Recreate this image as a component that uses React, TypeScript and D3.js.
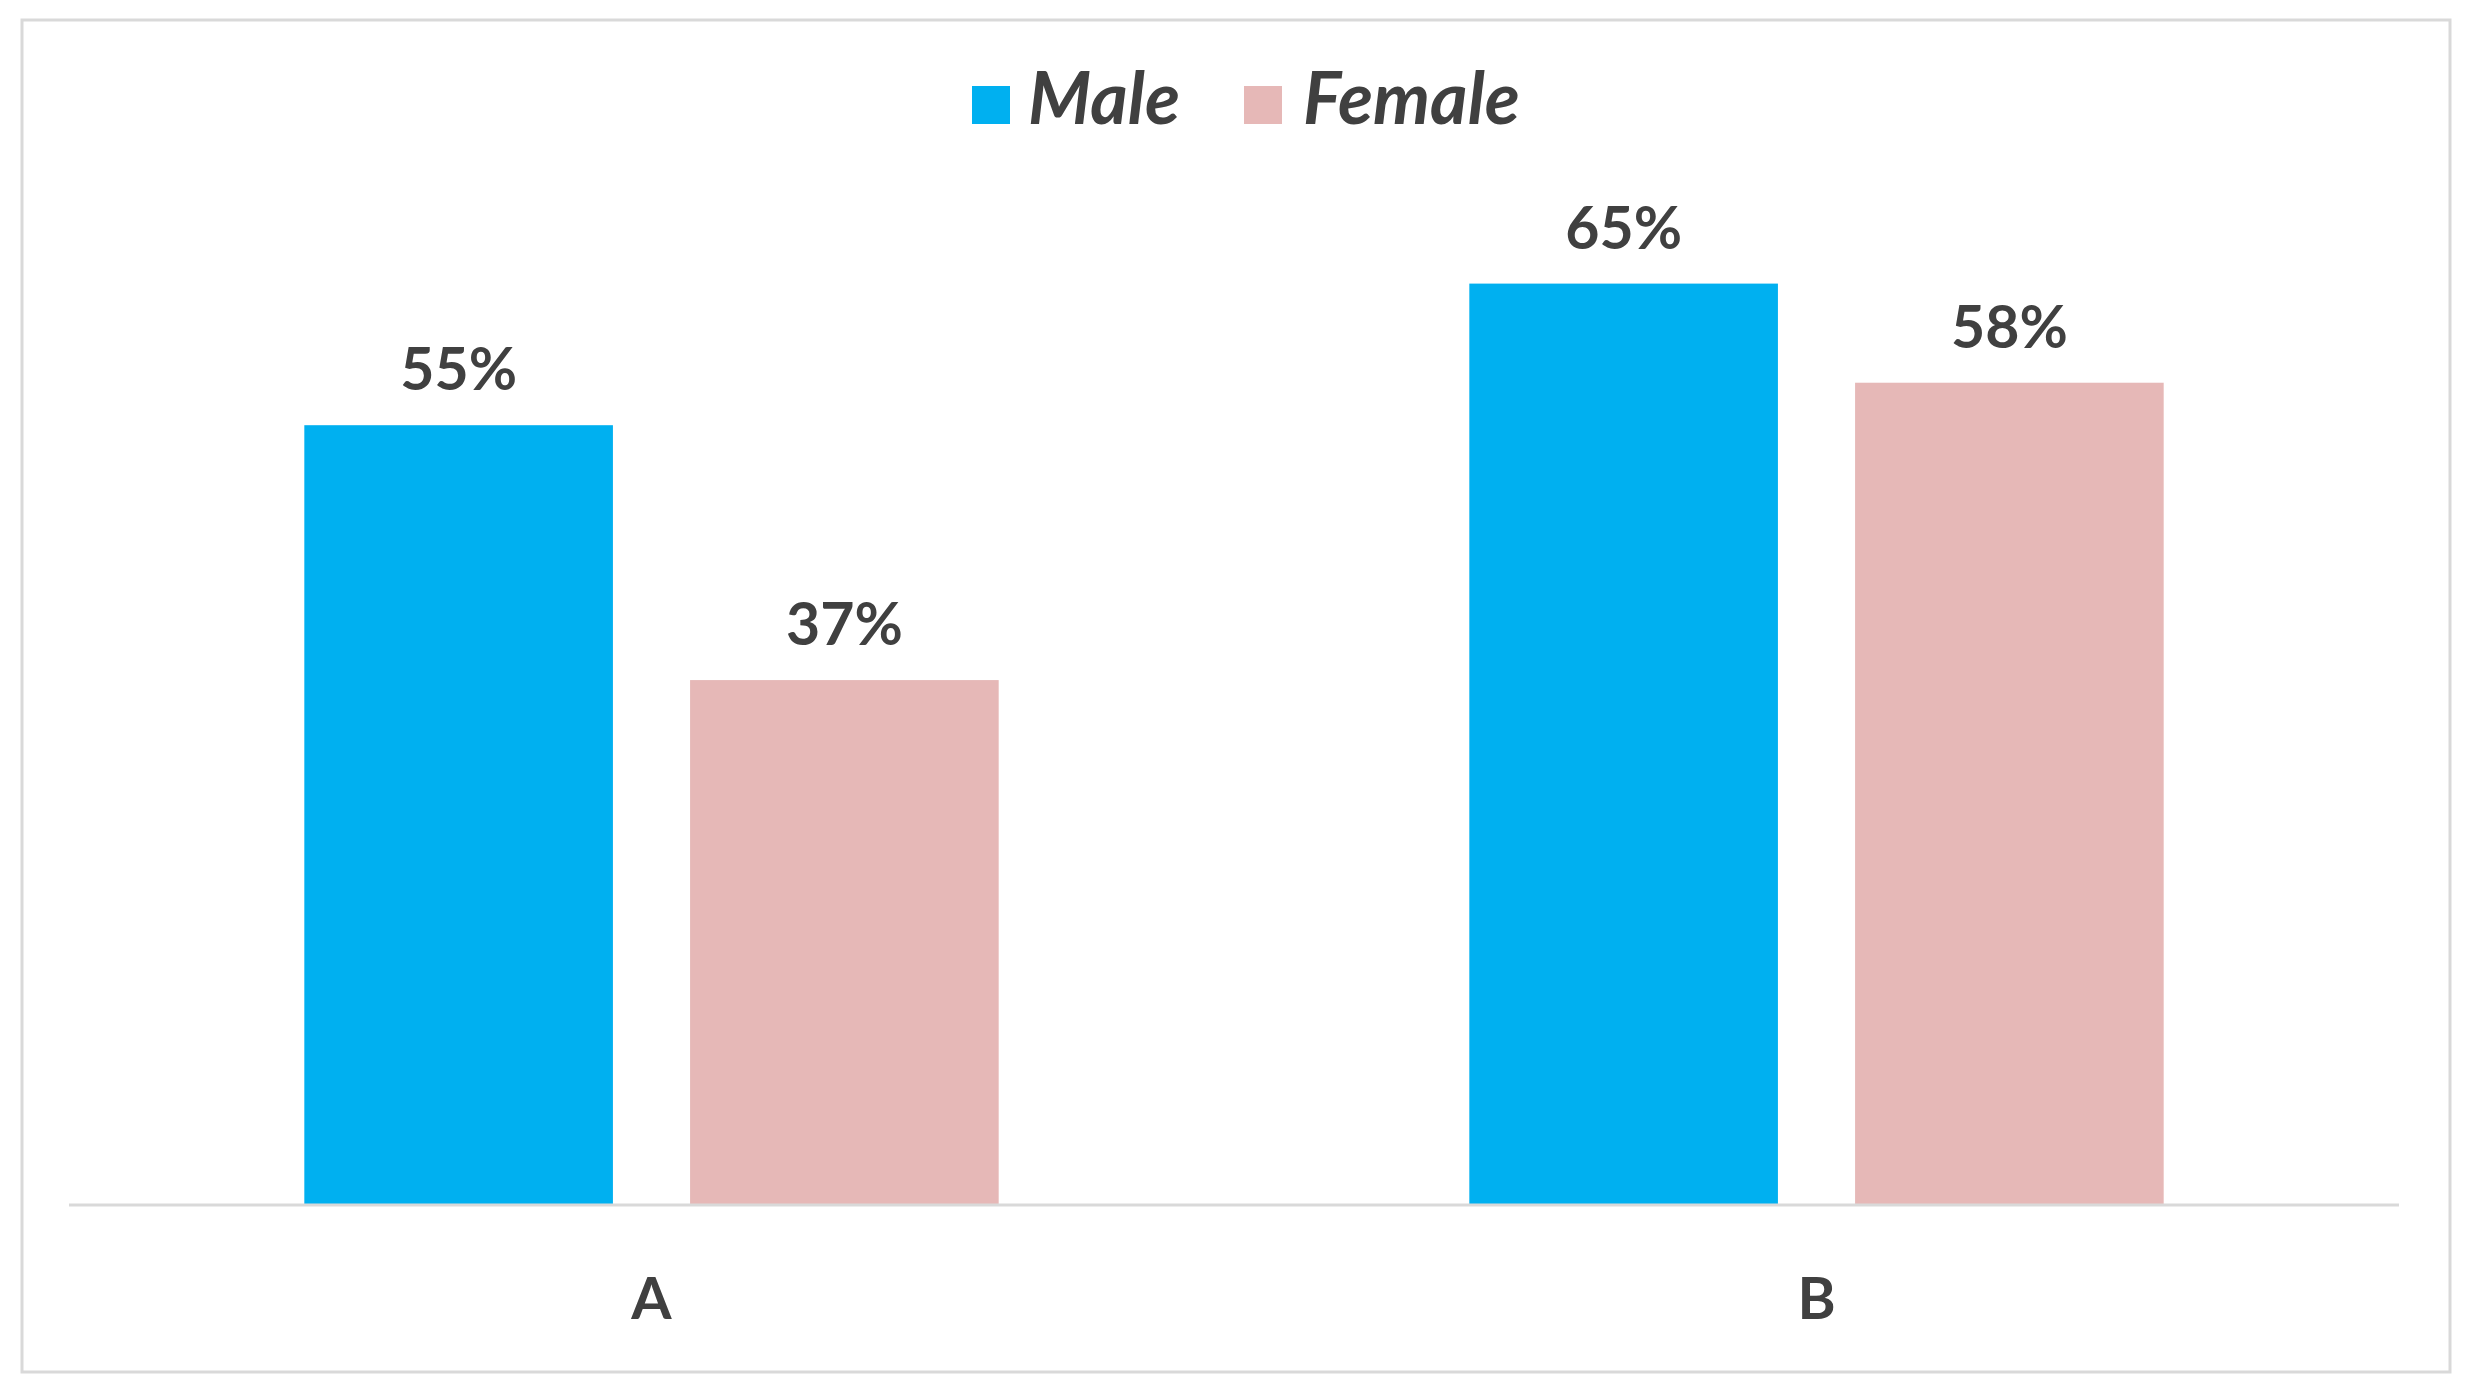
import React from "react";
import * as d3 from "d3";

const categories = ["A", "B"];
const seriesNames = ["Male", "Female"];
const maleValues = [55, 65];
const femaleValues = [37, 58];
const seriesColors = ["#00B0F0", "#E6B8B7"];

const W = 2475;
const H = 1388;

export default function App() {
  const plotLeft = 69;
  const plotRight = 2399;
  const baseY = 1204;
  const x0 = d3.scaleBand<string>().domain(categories).range([plotLeft, plotRight]).padding(0);
  const x1 = d3
    .scaleBand<string>()
    .domain(seriesNames)
    .range([0, x0.bandwidth()])
    .paddingInner(0.2)
    .paddingOuter(0.61);
  const y = d3.scaleLinear().domain([0, 70]).range([baseY, baseY - 70 * 14.16]);
  const values = [maleValues, femaleValues];
  const textColor = "#404040";
  const font = "Lato, 'Open Sans', sans-serif";

  return (
    <svg width={W} height={H} style={{ position: "absolute", left: 0, top: 0, background: "#fff" }}>
      <rect x={22} y={20} width={2428} height={1352} fill="#fff" stroke="#d9d9d9" strokeWidth={3} />
      {/* legend */}
      <g fontFamily={font} fontWeight={700} fontStyle="italic" fontSize={72} fill={textColor}>
        <rect x={972} y={86} width={38} height={38} fill={seriesColors[0]} />
        <text x={1028} y={124}>{seriesNames[0]}</text>
        <rect x={1244} y={86} width={38} height={38} fill={seriesColors[1]} />
        <text x={1303} y={124}>{seriesNames[1]}</text>
      </g>
      {/* bars */}
      {categories.map((c, ci) => (
        <g key={c} transform={`translate(${x0(c)},0)`}>
          {seriesNames.map((s, si) => {
            const v = values[si][ci];
            const bx = x1(s)!;
            return (
              <g key={s}>
                <rect x={bx} y={y(v)} width={x1.bandwidth()} height={baseY - y(v)} fill={seriesColors[si]} />
                <text
                  x={bx + x1.bandwidth() / 2}
                  y={y(v) - 35}
                  textAnchor="middle"
                  fontFamily={font}
                  fontWeight={700}
                  fontSize={59}
                  fill={textColor}
                >
                  {v}%
                </text>
              </g>
            );
          })}
          <text
            x={x0.bandwidth() / 2}
            y={1319}
            textAnchor="middle"
            fontFamily={font}
            fontWeight={700}
            fontSize={58}
            fill={textColor}
          >
            {c}
          </text>
        </g>
      ))}
      <line x1={plotLeft} x2={plotRight} y1={baseY + 1} y2={baseY + 1} stroke="#d9d9d9" strokeWidth={3} />
    </svg>
  );
}
